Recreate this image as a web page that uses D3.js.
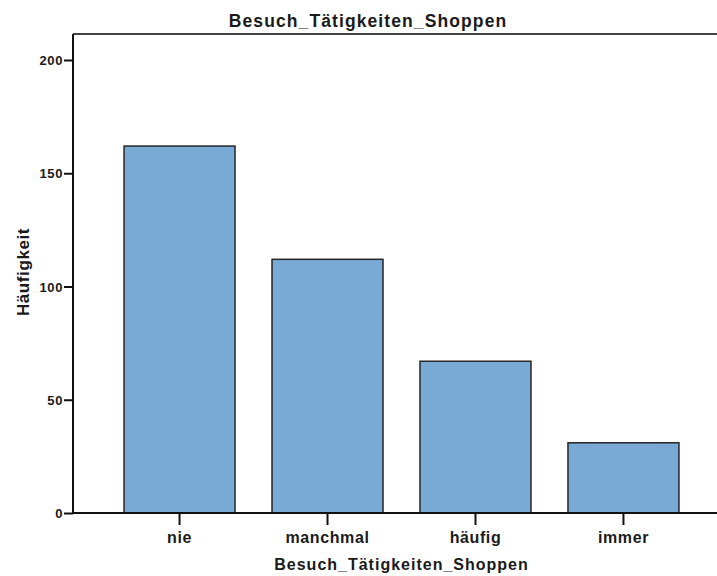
<!DOCTYPE html>
<html>
<head>
<meta charset="utf-8">
<script src="https://cdn.jsdelivr.net/npm/d3@7"></script>
<style>
  html, body { margin: 0; padding: 0; background: #fff; }
  svg { display: block; }
  text { font-family: "Liberation Sans", Arial, Helvetica, sans-serif; font-weight: bold; fill: #1a1a1a; }
</style>
</head>
<body>
<svg id="chart" width="717" height="576"></svg>
<script>
// Häufigkeiten der Antworten
const categories = ["nie", "manchmal", "häufig", "immer"];
const counts = [162, 112, 67, 31];
const yTicks = [0, 50, 100, 150, 200];

const chartTitle = "Besuch_Tätigkeiten_Shoppen";
const xTitle = "Besuch_Tätigkeiten_Shoppen";
const yTitle = "Häufigkeit";

const svg = d3.select("#chart");

// Plot frame
const plotLeft = 73, plotRight = 730, plotTop = 34, plotBottom = 513;

const x = d3.scaleBand()
  .domain(categories)
  .range([plotLeft, plotRight])
  .paddingInner(0.25)
  .paddingOuter(0.345)
  .align(0.5);

const y = d3.scaleLinear()
  .domain([0, 200])
  .range([plotBottom, 60]);

// Bars
svg.append("g")
  .selectAll("rect")
  .data(counts)
  .join("rect")
  .attr("x", (d, i) => x(categories[i]))
  .attr("y", d => y(d))
  .attr("width", x.bandwidth())
  .attr("height", d => y(0) - y(d))
  .attr("fill", "#79aad6")
  .attr("stroke", "#262626")
  .attr("stroke-width", 1.5);

// Top border of the plot frame
svg.append("line")
  .attr("x1", plotLeft).attr("x2", 717)
  .attr("y1", plotTop).attr("y2", plotTop)
  .attr("stroke", "#444").attr("stroke-width", 2);

// Y axis
const yAxis = d3.axisLeft(y)
  .tickValues(yTicks)
  .tickSize(9)
  .tickPadding(1)
  .tickFormat(d3.format("d"));

const gy = svg.append("g")
  .attr("transform", `translate(${plotLeft},0)`)
  .call(yAxis);
gy.select(".domain").remove();
gy.selectAll(".tick line").attr("stroke", "#111").attr("stroke-width", 2);
gy.selectAll(".tick text")
  .attr("font-size", 13)
  .attr("letter-spacing", 0.6)
  .attr("dy", "0.36em")
  .attr("fill", "#1a1a1a");
gy.append("line")
  .attr("x1", 0).attr("x2", 0)
  .attr("y1", plotTop).attr("y2", plotBottom)
  .attr("stroke", "#111").attr("stroke-width", 2);

// X axis
const xAxis = d3.axisBottom(x)
  .tickSize(12)
  .tickPadding(6);

const gx = svg.append("g")
  .attr("transform", `translate(0,${plotBottom})`)
  .call(xAxis);
gx.select(".domain").remove();
gx.selectAll(".tick line").attr("stroke", "#111").attr("stroke-width", 2);
gx.selectAll(".tick text")
  .attr("font-size", 16)
  .attr("letter-spacing", 0.6)
  .attr("dy", 0)
  .attr("y", 30)
  .attr("fill", "#1a1a1a");
gx.append("line")
  .attr("x1", plotLeft - 1).attr("x2", 717)
  .attr("y1", 0).attr("y2", 0)
  .attr("stroke", "#111").attr("stroke-width", 2);

// Titles
svg.append("text")
  .attr("x", 368).attr("y", 27)
  .attr("text-anchor", "middle")
  .attr("font-size", 17.5)
  .attr("letter-spacing", 1.1)
  .text(chartTitle);

svg.append("text")
  .attr("x", (plotLeft + plotRight) / 2).attr("y", 570)
  .attr("text-anchor", "middle")
  .attr("font-size", 16)
  .attr("letter-spacing", 1)
  .text(xTitle);

svg.append("text")
  .attr("transform", "translate(29,272) rotate(-90)")
  .attr("text-anchor", "middle")
  .attr("font-size", 17)
  .attr("letter-spacing", 0.6)
  .text(yTitle);
</script>
</body>
</html>
